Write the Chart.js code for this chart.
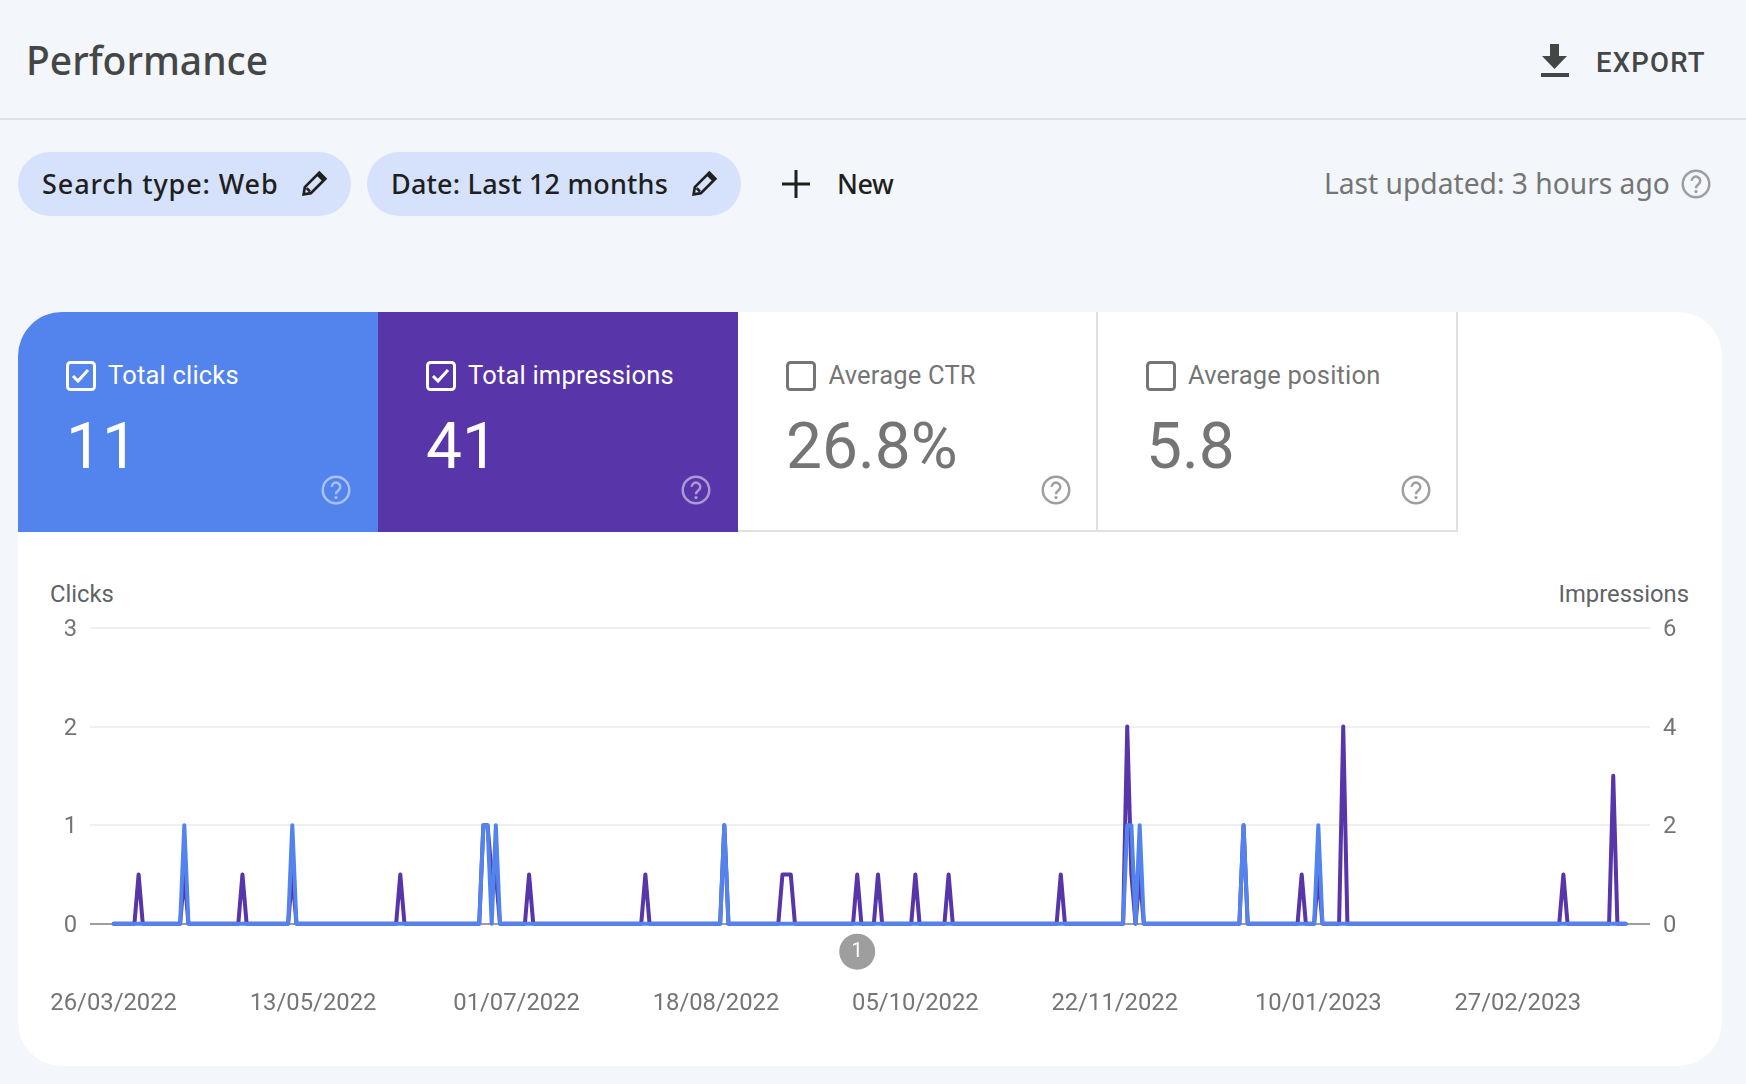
<!DOCTYPE html>
<html>
<head>
<meta charset="utf-8">
<title>Performance</title>
<script src="https://cdn.jsdelivr.net/npm/chart.js@4"></script>
<style>
  html, body { margin: 0; padding: 0; width: 1746px; height: 1084px; overflow: hidden; background: #f3f6fb; font-family: Roboto, sans-serif; }
  .abs { position: absolute; white-space: nowrap; }
  .mid { transform: translateY(-50%); line-height: 1; }
  #rule { left: 0; top: 118px; width: 1746px; height: 2px; background: #e0e0e0; }
  #title { left: 26px; top: 59px; font: 500 39px "Noto Sans", sans-serif; color: #444746; }
  #export { left: 1596px; top: 63px; font-size: 27.500px; font-weight: 500; letter-spacing: 1.2px; color: #444746; }
  .chip { top: 152px; height: 64px; border-radius: 32px; background: #d6e2fb; }
  .chiptext { top: 183px; font: 500 27px "Noto Sans", sans-serif; color: #1f1f1f; }
  #updated { left: 1324px; top: 183px; font: 400 28.200px "Noto Sans", sans-serif; color: #757575; }
  #card { left: 18px; top: 312px; width: 1704px; height: 754px; background: #fff; border-radius: 44px; }
  .tile { top: 312px; width: 360px; height: 220px; box-sizing: border-box; }
  .tile.off { background: #fff; border-right: 2px solid #e0e0e0; border-bottom: 2px solid #e0e0e0; }
  .label { top: 376px; font-size: 25.500px; letter-spacing: 0.2px; }
  .value { top: 447px; font-size: 64px; }
  .white { color: #fff; }
  .grey { color: #757575; }
  .axisname { top: 595px; font-size: 23.800px; color: #5f6368; }
  svg { position: absolute; overflow: visible; }
  canvas { position: absolute; left: 18px; top: 560px; }
</style>
</head>
<body>
<div class="abs" id="rule"></div>
<div class="abs mid" id="title">Performance</div>
<svg style="left:1539px;top:44px" width="32" height="34" viewBox="0 0 32 34"><path d="M11 0h9v12h8L15.500 25 3 12h8z M2 29h28v4H2z" fill="#444746"/></svg>
<div class="abs mid" id="export">EXPORT</div>

<div class="abs chip" style="left:18px;width:333px"></div>
<div class="abs mid chiptext" style="left:42px;letter-spacing:0.9px">Search type: Web</div>
<svg style="left:300px;top:168px" width="29" height="31" viewBox="0 0 24 24"><path d="M3 21l1-6L16 3l5 5L9 20z M5.500 15.800l2.800 2.800 M14.500 4.500l5 5" fill="none" stroke="#1f1f1f" stroke-width="2.200"/></svg>
<div class="abs chip" style="left:367px;width:374px"></div>
<div class="abs mid chiptext" style="left:391px;letter-spacing:0.2px">Date: Last 12 months</div>
<svg style="left:690px;top:168px" width="29" height="31" viewBox="0 0 24 24"><path d="M3 21l1-6L16 3l5 5L9 20z M5.500 15.800l2.800 2.800 M14.500 4.500l5 5" fill="none" stroke="#1f1f1f" stroke-width="2.200"/></svg>
<svg style="left:782px;top:170px" width="28" height="28" viewBox="0 0 28 28"><path d="M14 0v28 M0 14h28" stroke="#1f1f1f" stroke-width="3"/></svg>
<div class="abs mid chiptext" style="left:837px;letter-spacing:-0.5px">New</div>
<div class="abs mid" id="updated">Last updated: 3 hours ago</div>

<div class="abs" id="card"></div>
<div class="abs tile" style="left:18px;background:#5383ec;border-top-left-radius:44px"></div>
<div class="abs tile" style="left:378px;background:#5835a8"></div>
<div class="abs tile off" style="left:738px"></div>
<div class="abs tile off" style="left:1098px"></div>

<div class="abs mid label white" style="left:108px">Total clicks</div>
<div class="abs mid value white" style="left:66px">11</div>
<div class="abs mid label white" style="left:468px">Total impressions</div>
<div class="abs mid value white" style="left:426px">41</div>
<div class="abs mid label grey" style="left:828.500px">Average CTR</div>
<div class="abs mid value grey" style="left:786px">26.8%</div>
<div class="abs mid label grey" style="left:1188px">Average position</div>
<div class="abs mid value grey" style="left:1146px">5.8</div>

<div id="icons"></div>

<div class="abs mid axisname" style="left:50px">Clicks</div>
<div class="abs mid axisname" style="right:57px">Impressions</div>

<canvas id="chart" width="1704" height="505"></canvas>

<script>
// days counted from 26/03/2022, only the points where the line changes direction
const clickDays = [0, 16, 17, 18, 42, 43, 44, 88, 89, 90, 91, 92, 93, 146, 147, 148, 243, 244, 245, 246, 247, 248, 271, 272, 273, 289, 290, 291, 364];
const clickValues = [0, 0, 1, 0, 0, 1, 0, 0, 1, 1, 0, 1, 0, 0, 1, 0, 0, 1, 1, 0, 1, 0, 0, 1, 0, 0, 1, 0, 0];

const impressionDays = [0, 5, 6, 7, 16, 17, 18, 30, 31, 32, 42, 43, 44, 68, 69, 70, 88, 89, 90, 91, 92, 93, 99, 100, 101, 127, 128, 129, 146, 147, 148, 160, 161, 162, 163, 164, 178, 179, 180, 183, 184, 185, 192, 193, 194, 200, 201, 202, 227, 228, 229, 243, 244, 245, 246, 247, 248, 271, 272, 273, 285, 286, 287, 289, 290, 291, 295, 296, 297, 348, 349, 350, 360, 361, 362, 364];
const impressionValues = [0, 0, 1, 0, 0, 1, 0, 0, 1, 0, 0, 1, 0, 0, 1, 0, 0, 2, 2, 1, 1, 0, 0, 1, 0, 0, 1, 0, 0, 2, 0, 0, 1, 1, 1, 0, 0, 1, 0, 0, 1, 0, 0, 1, 0, 0, 1, 0, 0, 1, 0, 0, 4, 1, 0, 1, 0, 0, 2, 0, 0, 1, 0, 0, 1, 0, 0, 4, 0, 0, 1, 0, 0, 3, 0, 0];

const tickDays = [0, 48, 97, 145, 193, 241, 290, 338];
const tickLabels = ['26/03/2022', '13/05/2022', '01/07/2022', '18/08/2022', '05/10/2022', '22/11/2022', '10/01/2023', '27/02/2023'];

const annotationDays = [179];
const annotationLabels = ['1'];

const BLUE = '#5383ec';
const PURPLE = '#5835a8';
const TICK_GREY = '#757575';

const toPoints = (days, values) => days.map((d, i) => ({ x: d, y: values[i] }));

// Small help icons and checkboxes of the tiles
const icons = document.getElementById('icons');
function helpIcon(cx, cy, r, color) {
    icons.insertAdjacentHTML('beforeend',
        `<svg style="left:${cx - r}px;top:${cy - r}px" width="${r * 2}" height="${r * 2}" viewBox="0 0 24 24">
        <circle cx="12" cy="12" r="10.6" fill="none" stroke="${color}" stroke-width="2"/>
        <path d="M8.600 9.500a3.400 3.400 0 1 1 5.400 2.700c-1.300 1-2 1.600-2 3.200" fill="none" stroke="${color}" stroke-width="2"/>
        <circle cx="12" cy="18" r="1.300" fill="${color}"/></svg>`);
}
function checkbox(x, y, color, checked) {
    const tick = checked ? `<path d="M7 15l5 5 10-11" fill="none" stroke="${color}" stroke-width="3"/>` : '';
    icons.insertAdjacentHTML('beforeend',
        `<svg style="left:${x}px;top:${y}px" width="30" height="30" viewBox="0 0 30 30">
        <rect x="1.500" y="1.500" width="27" height="27" rx="3" fill="none" stroke="${color}" stroke-width="3"/>${tick}</svg>`);
}
checkbox(66, 361, '#fff', true);
checkbox(426, 361, '#fff', true);
checkbox(786, 361, '#757575', false);
checkbox(1146, 361, '#757575', false);
helpIcon(336, 490, 15, 'rgba(255,255,255,0.5)');
helpIcon(696, 490, 15, 'rgba(255,255,255,0.5)');
helpIcon(1056, 490, 15, '#9e9e9e');
helpIcon(1416, 490, 15, '#9e9e9e');
helpIcon(1696, 184, 15, '#9e9e9e');

// Grey numbered markers under the axis
const annotationPlugin = {
    id: 'annotations',
    afterDraw(chart) {
        const { ctx, scales } = chart;
        ctx.save();
        annotationDays.forEach((day, i) => {
            const px = scales.x.getPixelForValue(day);
            const py = scales.y.getPixelForValue(0) + 28;
            ctx.beginPath();
            ctx.arc(px, py, 18, 0, Math.PI * 2);
            ctx.fillStyle = '#9e9e9e';
            ctx.fill();
            ctx.fillStyle = '#fff';
            ctx.font = '21px Roboto';
            ctx.textAlign = 'center';
            ctx.textBaseline = 'middle';
            ctx.fillText(annotationLabels[i], px, py);
        });
        ctx.restore();
    },
};

// Empty first line with a tiny line height nudges the digits down onto the grid line
const yTickFont = { family: 'Roboto', size: 23.8, lineHeight: 0.17 };
const yTickLabel = (value) => ['', String(value)];

new Chart(document.getElementById('chart'), {
    type: 'line',
    data: {
        datasets: [
            // clip off: the baseline sits right on the bottom edge of the plot
            { label: 'Clicks', data: toPoints(clickDays, clickValues), yAxisID: 'y', borderColor: BLUE, borderWidth: 4, clip: false, order: 1 },
            { label: 'Impressions', data: toPoints(impressionDays, impressionValues), yAxisID: 'y1', borderColor: PURPLE, borderWidth: 4, clip: false, order: 2 },
        ],
    },
    options: {
        responsive: false,
        animation: false,
        devicePixelRatio: 1,
        elements: {
            point: { radius: 0 },
            line: { tension: 0, borderJoinStyle: 'round', borderCapStyle: 'round' },
        },
        layout: { padding: { top: 68, left: 0, right: 0, bottom: 0 } },
        plugins: { legend: { display: false }, tooltip: { enabled: false } },
        scales: {
            x: {
                type: 'linear',
                min: -5.7,
                max: 369.85,
                grid: { display: false },
                border: { display: false },
                afterBuildTicks: (scale) => { scale.ticks = tickDays.map((value) => ({ value })); },
                afterFit: (scale) => {
                    scale.height = 141.3;
                    scale.paddingLeft = 0;
                    scale.paddingRight = 0;
                },
                ticks: {
                    autoSkip: false,
                    maxRotation: 0,
                    padding: 58,
                    color: TICK_GREY,
                    font: { family: 'Roboto', size: 23.8 },
                    callback: (value) => tickLabels[tickDays.indexOf(value)],
                },
            },
            y: {
                position: 'left',
                min: 0,
                max: 3,
                afterFit: (scale) => { scale.width = 72; },
                grid: {
                    drawTicks: false,
                    lineWidth: 2,
                    color: (c) => (c.tick.value === 0 ? '#9e9e9e' : '#efefef'),
                },
                border: { display: false },
                ticks: { stepSize: 1, padding: 13, color: TICK_GREY, font: yTickFont, callback: yTickLabel },
            },
            y1: {
                position: 'right',
                min: 0,
                max: 6,
                afterFit: (scale) => { scale.width = 72; },
                grid: { display: false, drawTicks: false },
                border: { display: false },
                ticks: { stepSize: 2, padding: 13, color: TICK_GREY, font: yTickFont, callback: yTickLabel },
            },
        },
    },
    plugins: [annotationPlugin],
});
</script>
</body>
</html>
